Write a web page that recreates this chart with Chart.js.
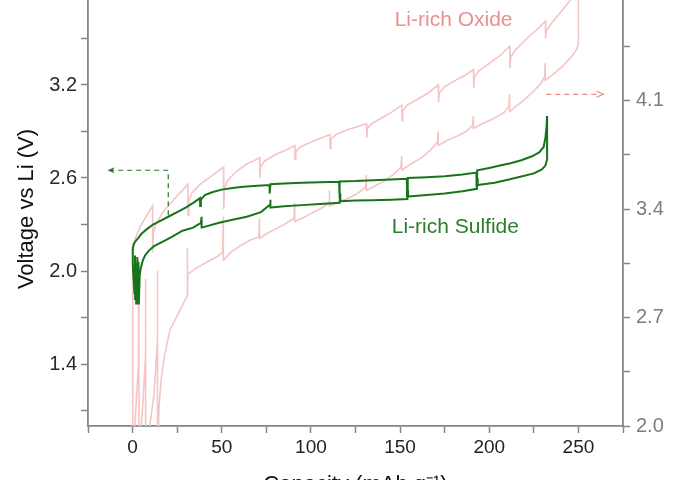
<!DOCTYPE html>
<html>
<head>
<meta charset="utf-8">
<script src="https://cdn.jsdelivr.net/npm/chart.js@4.4.1/dist/chart.umd.min.js"></script>
<style>
html, body { margin: 0; padding: 0; background: #fff; overflow: hidden; width: 682px; height: 480px; }
#wrap { position: absolute; left: 0; top: -30px; width: 682px; height: 530px; }
</style>
</head>
<body>
<div id="wrap"><canvas id="gittChart"></canvas></div>
<script>
// Li-rich sulfide (left axis): charge along the top, discharge back along the bottom
const sulfideCap = [
  0.0, 0.1, 0.5, 1.5, 3, 5, 8, 11.5, 15, 20, 25, 30, 34, 37.8,
  37.9, 38.3, 40.5, 45, 50, 56, 62, 70, 76.8,
  76.9, 77.3, 85, 95, 105, 115.8,
  115.9, 116.3, 125, 135, 145, 153.8,
  153.9, 154.3, 165, 175, 185, 192.8,
  192.9, 193.3, 200, 206, 212, 218, 224, 228, 230.5, 231.5, 232.2, 232.4,
  232.5, 232.4, 231.5, 229.5, 225, 218, 211, 203, 193.6,
  193.5, 193.1, 185, 175, 165, 154.6,
  154.5, 154.1, 145, 135, 125, 116.6,
  116.5, 116.1, 105, 95, 85, 77.6,
  77.5, 77.1, 72, 64, 56, 48, 38.8,
  38.7, 38.3, 34, 28, 22, 17, 12, 9, 7, 5.8, 4.6, 4.0,
  3.5, 3.3, 3.0, 2.7, 2.3, 2.0, 1.7, 1.4, 1.1, 0.3, 0.0
];
const sulfideVolt = [
  2.07, 2.14, 2.17, 2.19, 2.21, 2.24, 2.27, 2.30, 2.32, 2.35, 2.38, 2.41, 2.44, 2.47,
  2.42, 2.46, 2.49, 2.51, 2.525, 2.535, 2.543, 2.55, 2.555,
  2.50, 2.56, 2.565, 2.57, 2.572, 2.575,
  2.47, 2.578, 2.58, 2.585, 2.59, 2.595,
  2.48, 2.60, 2.605, 2.612, 2.622, 2.635,
  2.54, 2.65, 2.665, 2.68, 2.695, 2.715, 2.74, 2.765, 2.80, 2.86, 2.94, 3.00,
  2.80, 2.72, 2.68, 2.655, 2.63, 2.61, 2.59, 2.57, 2.555,
  2.60, 2.53, 2.515, 2.50, 2.49, 2.48,
  2.52, 2.465, 2.46, 2.457, 2.455, 2.45,
  2.50, 2.44, 2.433, 2.425, 2.417, 2.41,
  2.46, 2.43, 2.38, 2.35, 2.33, 2.31, 2.28,
  2.35, 2.31, 2.28, 2.26, 2.22, 2.19, 2.16, 2.13, 2.10, 2.07, 2.02, 1.97,
  1.79, 2.06, 1.80, 2.09, 1.79, 2.05, 1.82, 2.10, 1.85, 2.00, 2.07
];

// Li-rich oxide (right axis)
const oxideCap = [
  0.0, 0.1, 0.5, 1.5, 4, 8, 11.2,
  11.3, 11.6, 13, 17, 23, 28, 31,
  31.1, 31.5, 33, 38, 44, 51,
  51.1, 51.5, 53, 58, 64, 71.3,
  71.4, 71.8, 74, 80, 86, 91,
  91.1, 91.5, 94, 100, 106, 110.7,
  110.8, 111.2, 114, 120, 126, 131.2,
  131.3, 131.7, 134, 140, 146, 151,
  151.1, 151.5, 154, 160, 166, 171.5,
  171.6, 172, 175, 181, 186, 191.2,
  191.3, 191.7, 194, 200, 206, 211.5,
  211.6, 212, 215, 221, 226, 231.5,
  231.6, 232, 235, 240, 245, 250,
  250, 249, 246, 241, 236, 231.5,
  231.4, 231.0, 229, 224, 218, 211.5,
  211.4, 211, 208, 202, 196, 191.2,
  191.1, 190.7, 187, 182, 176, 171.5,
  171.4, 171, 167, 162, 156, 151,
  150.9, 150.5, 146, 141, 136, 131.2,
  131.1, 130.7, 126, 121, 116, 110.7,
  110.6, 110.2, 105, 100, 95, 91,
  90.9, 90.5, 85, 80, 75, 71.3,
  71.2, 70.8, 66, 60, 55, 51,
  50.9, 50.5, 47, 42, 36, 31,
  30.9, 30.6, 28, 25, 21, 18, 16, 14.8, 14.2,
  14.1, 13.8, 12, 9, 7.5,
  7.4, 7.2, 5.5, 3.6,
  3.5, 3.3, 1.5, 0.2
];
const oxideVolt = [
  1.80, 3.05, 3.15, 3.21, 3.28, 3.36, 3.42,
  3.12, 3.24, 3.30, 3.38, 3.46, 3.52, 3.56,
  3.36, 3.45, 3.50, 3.56, 3.61, 3.67,
  3.40, 3.53, 3.58, 3.64, 3.69, 3.73,
  3.60, 3.67, 3.71, 3.75, 3.78, 3.81,
  3.72, 3.77, 3.80, 3.83, 3.86, 3.88,
  3.79, 3.85, 3.88, 3.91, 3.93, 3.95,
  3.86, 3.92, 3.95, 3.99, 4.03, 4.07,
  3.97, 4.03, 4.07, 4.11, 4.15, 4.20,
  4.09, 4.15, 4.19, 4.23, 4.26, 4.30,
  4.18, 4.25, 4.29, 4.34, 4.39, 4.45,
  4.31, 4.38, 4.43, 4.50, 4.55, 4.61,
  4.50, 4.55, 4.60, 4.67, 4.74, 4.85,
  4.47, 4.43, 4.38, 4.32, 4.27, 4.23,
  4.34, 4.25, 4.21, 4.15, 4.09, 4.03,
  4.14, 4.06, 4.02, 3.98, 3.95, 3.92,
  4.00, 3.94, 3.90, 3.87, 3.84, 3.81,
  3.90, 3.83, 3.78, 3.73, 3.69, 3.65,
  3.74, 3.67, 3.62, 3.58, 3.55, 3.52,
  3.62, 3.54, 3.50, 3.47, 3.45, 3.42,
  3.52, 3.44, 3.40, 3.37, 3.34, 3.32,
  3.44, 3.34, 3.30, 3.27, 3.24, 3.21,
  3.34, 3.22, 3.20, 3.16, 3.12, 3.07,
  3.35, 3.12, 3.09, 3.06, 3.02, 2.98,
  3.15, 2.84, 2.78, 2.71, 2.62, 2.46, 2.30, 2.12, 1.85,
  3.00, 2.55, 2.20, 1.95, 1.80,
  2.95, 2.45, 2.10, 1.80,
  2.90, 2.40, 2.05, 1.80
];

const leftMajor = [1.4, 2.0, 2.6, 3.2, 3.8];
const leftMinor = [1.1, 1.7, 2.3, 2.9, 3.5];
const rightMajor = [2.0, 2.7, 3.4, 4.1, 4.8];
const rightMinor = [2.35, 3.05, 3.75, 4.45];

const FONT = "'Liberation Sans', Arial, sans-serif";
const AXIS_GREY = "#858585";

function pts(xs, ys) {
    return xs.map((x, i) => ({ x: x, y: ys[i] }));
}

function isMajor(list, v) {
    return list.some(m => Math.abs(m - v) < 1e-6);
}

// arrows and series names drawn on top of the plot
const notes = {
    id: "notes",
    afterDatasetsDraw(chart) {
        const { ctx } = chart;
        const sx = chart.scales.x, sy = chart.scales.y, sy2 = chart.scales.y2;
        ctx.save();

        // green arrow pointing to left axis
        ctx.strokeStyle = "#1f7a1f";
        ctx.lineWidth = 1.2;
        ctx.setLineDash([5, 4]);
        ctx.beginPath();
        ctx.moveTo(sx.getPixelForValue(20), sy.getPixelForValue(2.36));
        ctx.lineTo(sx.getPixelForValue(20), sy.getPixelForValue(2.65));
        ctx.lineTo(sx.getPixelForValue(-12), sy.getPixelForValue(2.65));
        ctx.stroke();
        ctx.setLineDash([]);
        let ax = sx.getPixelForValue(-14), ay = sy.getPixelForValue(2.65);
        ctx.fillStyle = "#1f7a1f";
        ctx.beginPath();
        ctx.moveTo(ax, ay);
        ctx.lineTo(ax + 7, ay - 3);
        ctx.lineTo(ax + 5, ay);
        ctx.lineTo(ax + 7, ay + 3);
        ctx.closePath();
        ctx.fill();

        // pink arrow pointing to right axis
        ctx.strokeStyle = "#e58a8a";
        ctx.setLineDash([5, 4]);
        ctx.beginPath();
        ctx.moveTo(sx.getPixelForValue(232), sy2.getPixelForValue(4.14));
        ctx.lineTo(sx.getPixelForValue(262), sy2.getPixelForValue(4.14));
        ctx.stroke();
        ctx.setLineDash([]);
        ax = sx.getPixelForValue(264); ay = sy2.getPixelForValue(4.14);
        ctx.beginPath();
        ctx.moveTo(ax - 7, ay - 3);
        ctx.lineTo(ax, ay);
        ctx.lineTo(ax - 7, ay + 3);
        ctx.stroke();

        ctx.font = "21px " + FONT;
        ctx.textAlign = "center";
        ctx.textBaseline = "middle";
        ctx.fillStyle = "#e89190";
        ctx.fillText("Li-rich Oxide", sx.getPixelForValue(180), sy.getPixelForValue(3.62));
        ctx.fillStyle = "#2c7d2c";
        ctx.fillText("Li-rich Sulfide", sx.getPixelForValue(181), sy.getPixelForValue(2.28));
        ctx.restore();
    }
};

function initChart() {
    const ctx = document.getElementById("gittChart");

    new Chart(ctx, {
        type: "scatter",
        data: {
            datasets: [{
                label: "Li-rich Sulfide",
                data: pts(sulfideCap, sulfideVolt),
                yAxisID: "y",
                showLine: true,
                borderColor: "#17741a",
                borderWidth: 2,
                pointRadius: 0,
                tension: 0
            }, {
                label: "Li-rich Oxide",
                data: pts(oxideCap, oxideVolt),
                yAxisID: "y2",
                showLine: true,
                borderColor: "#f5c4c4",
                borderWidth: 1.6,
                pointRadius: 0,
                tension: 0
            }]
        },
        options: {
            responsive: true,
            maintainAspectRatio: false,
            animation: false,
            devicePixelRatio: 1,
            layout: { padding: { top: 22, left: 0, right: 0, bottom: 0 } },
            plugins: {
                legend: { display: false },
                tooltip: { enabled: false }
            },
            scales: {
                x: {
                    type: "linear",
                    position: "bottom",
                    min: -25,
                    max: 275,
                    afterFit: s => { s.height = 74; },
                    ticks: {
                        stepSize: 25,
                        autoSkip: false,
                        maxRotation: 0,
                        padding: 3,
                        color: "#222",
                        font: { family: FONT, size: 19 },
                        callback: v => (v % 50 === 0 ? v : "")
                    },
                    grid: { drawOnChartArea: false, tickLength: 7, color: AXIS_GREY, tickWidth: 1.5 },
                    border: { color: AXIS_GREY, width: 1.8 },
                    title: {
                        display: true,
                        text: "Capacity (mAh g\u207B\u00B9)",
                        color: "#111",
                        font: { family: FONT, size: 22 },
                        padding: { top: 0, bottom: 2 }
                    }
                },
                y: {
                    type: "linear",
                    position: "left",
                    min: 1.0,
                    max: 3.8,
                    afterFit: s => { s.width = 88; },
                    afterBuildTicks: s => {
                        s.ticks = leftMajor.concat(leftMinor).sort((a, b) => a - b).map(v => ({ value: v }));
                    },
                    ticks: {
                        autoSkip: false,
                        padding: 4,
                        color: "#2a2a2a",
                        font: { family: FONT, size: 20 },
                        callback: v => (isMajor(leftMajor, v) ? v.toFixed(1) : "")
                    },
                    grid: { drawOnChartArea: false, tickLength: 7, color: AXIS_GREY, tickWidth: 1.5 },
                    border: { color: AXIS_GREY, width: 1.8 },
                    title: {
                        display: true,
                        text: "Voltage vs Li (V)",
                        color: "#111",
                        font: { family: FONT, size: 22 },
                        padding: { top: 14, bottom: 0 }
                    }
                },
                y2: {
                    type: "linear",
                    position: "right",
                    min: 2.0,
                    max: 4.8,
                    afterFit: s => { s.width = 59; },
                    afterBuildTicks: s => {
                        s.ticks = rightMajor.concat(rightMinor).sort((a, b) => a - b).map(v => ({ value: v }));
                    },
                    ticks: {
                        autoSkip: false,
                        padding: 6,
                        color: "#7d7d7d",
                        font: { family: FONT, size: 20 },
                        callback: v => (isMajor(rightMajor, v) ? v.toFixed(1) : "")
                    },
                    grid: { drawOnChartArea: false, tickLength: 7, color: AXIS_GREY, tickWidth: 1.5 },
                    border: { color: AXIS_GREY, width: 1.8 }
                }
            }
        },
        plugins: [notes]
    });
}

window.addEventListener("load", initChart);
</script>
</body>
</html>
